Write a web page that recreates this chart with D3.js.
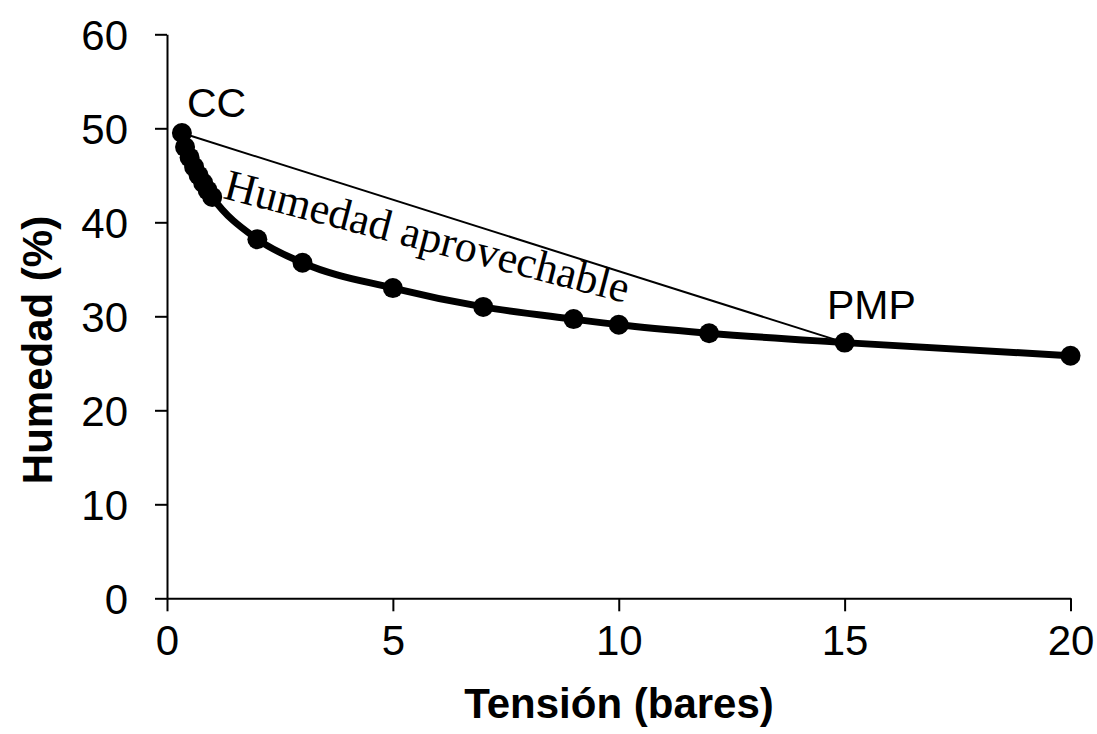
<!DOCTYPE html>
<html>
<head>
<meta charset="utf-8">
<script src="https://cdn.jsdelivr.net/npm/d3@7"></script>
<style>
  html, body { margin: 0; padding: 0; background: #fff; }
  svg { display: block; }
  text { font-family: "Liberation Sans", Arial, sans-serif; fill: #000; }
</style>
</head>
<body>
<svg id="chart" width="1097" height="734"></svg>
<script>
// Data
const tension = [0.33, 0.4, 0.5, 0.6, 0.7, 0.8, 0.9, 1.0, 2, 3, 5, 7, 9, 10, 12, 15, 20];
const humedad = [49.5, 48.0, 46.9, 45.9, 45.0, 44.2, 43.4, 42.7, 38.2, 35.7, 33.0, 31.0, 29.7, 29.1, 28.2, 27.2, 25.8];
const xTicks = [0, 5, 10, 15, 20];
const yTicks = [0, 10, 20, 30, 40, 50, 60];
const ccPoint = { x: 0.33, y: 49.5 };
const pmpPoint = { x: 15, y: 27.2 };
const xTitle = "Tensión (bares)";
const yTitle = "Humedad (%)";
const annotation = "Humedad aprovechable";

const svg = d3.select("#chart");
const x = d3.scaleLinear().domain([0, 20]).range([167, 1070.5]);
const y = d3.scaleLinear().domain([0, 60]).range([598.3, 34.3]);

// Axes
const xAxis = d3.axisBottom(x).tickValues(xTicks).tickSize(13).tickSizeOuter(0).tickPadding(14);
const yAxis = d3.axisLeft(y).tickValues(yTicks).tickSize(12).tickSizeOuter(0).tickPadding(27);

const gx = svg.append("g").attr("transform", `translate(0,${y(0)})`).call(xAxis);
const gy = svg.append("g").attr("transform", `translate(${x(0)},0)`).call(yAxis);
[gx, gy].forEach(g => {
  g.selectAll("path.domain").attr("stroke", "#000").attr("stroke-width", 2);
  g.selectAll(".tick line").attr("stroke", "#000").attr("stroke-width", 2);
  g.selectAll(".tick text")
    .style("font-family", '"Liberation Sans", Arial, sans-serif')
    .style("font-size", "42px").attr("fill", "#000");
});
gx.selectAll(".tick text").attr("dy", "0.71em");
gy.selectAll(".tick text").attr("dy", "0.35em");

// Thin line CC -> PMP
svg.append("line")
  .attr("x1", x(ccPoint.x)).attr("y1", y(ccPoint.y))
  .attr("x2", x(pmpPoint.x)).attr("y2", y(pmpPoint.y))
  .attr("stroke", "#000").attr("stroke-width", 2);

// Curve
const data = tension.map((t, i) => ({ t, h: humedad[i] }));
const line = d3.line().x(d => x(d.t)).y(d => y(d.h)).curve(d3.curveMonotoneX);
svg.append("path").datum(data).attr("d", line)
  .attr("fill", "none").attr("stroke", "#000").attr("stroke-width", 7);

svg.selectAll("circle.pt").data(data).enter().append("circle")
  .attr("class", "pt")
  .attr("cx", d => x(d.t)).attr("cy", d => y(d.h)).attr("r", 10)
  .attr("fill", "#000");

// Labels
svg.append("text").attr("x", 187).attr("y", 117)
  .style("font-size", "41px").text("CC");
svg.append("text").attr("x", 827).attr("y", 319)
  .style("font-size", "41px").text("PMP");

svg.append("text")
  .attr("transform", "translate(222,198) rotate(14.6)")
  .style("font-family", '"Liberation Serif", "Times New Roman", serif')
  .style("font-size", "44px")
  .text(annotation);

// Axis titles
svg.append("text")
  .attr("x", 619).attr("y", 718)
  .attr("text-anchor", "middle")
  .style("font-size", "42px").style("font-weight", "bold")
  .text(xTitle);
svg.append("text")
  .attr("transform", "translate(52,350) rotate(-90)")
  .attr("text-anchor", "middle")
  .style("font-size", "42px").style("font-weight", "bold")
  .text(yTitle);
</script>
</body>
</html>
